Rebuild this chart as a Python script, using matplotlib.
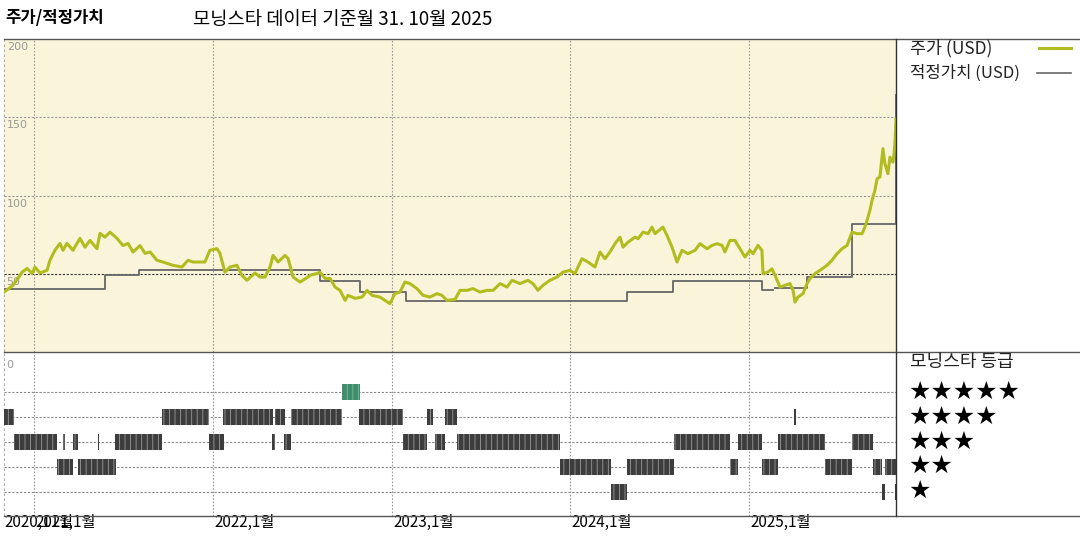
import matplotlib
matplotlib.use("Agg")
import matplotlib.pyplot as plt
from matplotlib.lines import Line2D
from matplotlib.transforms import blended_transform_factory

plt.rcParams['font.family'] = ['Noto Sans CJK KR', 'DejaVu Sans']
plt.rcParams['hatch.linewidth'] = 0.6

# 주가 (USD), 날짜는 소수 연도
price_dates = [
    2020.832, 2020.882, 2020.910, 2020.933, 2020.961, 2020.989, 2021.005, 2021.033, 2021.073, 2021.089,
    2021.117, 2021.145, 2021.162, 2021.184, 2021.218, 2021.257, 2021.285, 2021.313, 2021.352, 2021.369,
    2021.397, 2021.425, 2021.464, 2021.498, 2021.526, 2021.554, 2021.593, 2021.621, 2021.649, 2021.688,
    2021.721, 2021.777, 2021.828, 2021.861, 2021.889, 2021.928, 2021.956, 2021.984, 2022.024, 2022.040,
    2022.068, 2022.096, 2022.135, 2022.163, 2022.191, 2022.236, 2022.264, 2022.292, 2022.320, 2022.337,
    2022.365, 2022.404, 2022.421, 2022.449, 2022.488, 2022.533, 2022.544, 2022.583, 2022.600, 2022.628,
    2022.656, 2022.684, 2022.712, 2022.740, 2022.756, 2022.796, 2022.835, 2022.863, 2022.891, 2022.935,
    2022.963, 2022.991, 2023.019, 2023.047, 2023.075, 2023.103, 2023.142, 2023.176, 2023.215, 2023.254,
    2023.282, 2023.310, 2023.355, 2023.383, 2023.422, 2023.456, 2023.495, 2023.534, 2023.568, 2023.607,
    2023.646, 2023.674, 2023.719, 2023.763, 2023.791, 2023.819, 2023.847, 2023.886, 2023.926, 2023.959,
    2023.998, 2024.026, 2024.065, 2024.099, 2024.138, 2024.166, 2024.194, 2024.222, 2024.250, 2024.278,
    2024.295, 2024.323, 2024.362, 2024.379, 2024.407, 2024.435, 2024.457, 2024.474, 2024.518, 2024.541,
    2024.569, 2024.597, 2024.625, 2024.658, 2024.698, 2024.725, 2024.765, 2024.793, 2024.821, 2024.849,
    2024.865, 2024.893, 2024.921, 2024.949, 2024.977, 2025.005, 2025.022, 2025.050, 2025.072, 2025.078,
    2025.106, 2025.128, 2025.145, 2025.173, 2025.201, 2025.229, 2025.246, 2025.257, 2025.274, 2025.302,
    2025.324, 2025.341, 2025.369, 2025.397, 2025.436, 2025.464, 2025.492, 2025.520, 2025.548, 2025.576,
    2025.604, 2025.632, 2025.648, 2025.660, 2025.676, 2025.688, 2025.704, 2025.716, 2025.732, 2025.749,
    2025.760, 2025.777, 2025.788, 2025.805, 2025.811, 2025.816, 2025.822,
]
price_usd = [
    38.3, 42.6, 47.0, 51.0, 53.4, 50.2, 54.3, 50.5, 52.2, 58.6,
    65.0, 69.4, 65.0, 69.4, 65.0, 72.6, 67.0, 71.3, 66.0, 75.8,
    73.4, 76.6, 72.6, 68.0, 69.4, 63.9, 68.0, 63.0, 63.9, 58.6,
    57.5, 55.4, 54.3, 58.6, 57.5, 57.5, 57.5, 65.0, 66.0, 63.0,
    51.0, 54.3, 55.4, 49.0, 45.8, 50.5, 47.9, 47.9, 54.3, 61.7,
    57.5, 61.7, 59.8, 47.9, 44.7, 47.9, 49.0, 50.2, 51.0, 47.0,
    47.0, 41.5, 39.4, 33.0, 36.2, 34.3, 35.1, 39.4, 36.2, 35.1,
    33.0, 30.9, 37.3, 38.3, 44.7, 43.7, 40.5, 36.2, 35.1, 37.3,
    36.2, 33.0, 33.5, 39.4, 39.4, 40.5, 38.3, 39.4, 39.4, 43.7,
    41.5, 45.8, 43.7, 45.8, 43.7, 39.4, 42.6, 45.8, 47.9, 51.0,
    52.2, 50.1, 59.6, 57.5, 54.3, 63.9, 59.6, 63.9, 69.2, 73.4,
    67.0, 70.2, 73.4, 72.4, 76.6, 75.6, 79.8, 75.6, 79.8, 74.5,
    67.0, 57.5, 65.0, 62.8, 65.0, 69.2, 66.0, 68.1, 69.2, 68.1,
    63.9, 71.3, 71.3, 66.0, 60.7, 65.0, 62.8, 68.1, 65.0, 50.1,
    51.1, 53.2, 49.0, 41.5, 42.6, 43.7, 39.4, 31.9, 35.1, 37.3,
    43.7, 46.9, 50.1, 52.2, 55.4, 58.6, 62.8, 66.0, 68.1, 76.6,
    75.6, 75.6, 79.8, 84.1, 90.5, 96.9, 103.3, 110.7, 111.8, 129.9,
    120.3, 113.9, 124.5, 121.3, 126.7, 133.1, 149.0,
]

# 적정가치 (USD) 계단, nan = 끊김
fair_dates = [2020.832, 2021.397, 2021.587, 2022.600, 2022.823, 2023.081, 2024.317,
              2024.574, 2025.072, 2025.134, 2025.145, 2025.324, 2025.576, 2025.822]
fair_usd = [40.5, 49.0, 52.5, 45.1, 38.3, 32.3, 38.3,
            45.3, 39.4, float('nan'), 41.1, 47.9, 82.0, 164.0]

# 모닝스타 등급 구간 (시작, 끝)
rating_5 = [(2022.723, 2022.823)]
rating_4 = [(2020.826, 2020.888), (2021.716, 2021.979), (2022.057, 2022.337), (2022.348, 2022.404),
            (2022.437, 2022.723), (2022.818, 2023.064), (2023.198, 2023.232), (2023.299, 2023.366),
            (2025.251, 2025.262)]
rating_3 = [(2020.888, 2021.128), (2021.162, 2021.173), (2021.218, 2021.246), (2021.358, 2021.363),
            (2021.453, 2021.716), (2021.979, 2022.063), (2022.331, 2022.348), (2022.398, 2022.437),
            (2023.064, 2023.198), (2023.243, 2023.299), (2023.366, 2023.942), (2024.580, 2024.893),
            (2024.938, 2025.072), (2025.162, 2025.425), (2025.576, 2025.693)]
rating_2 = [(2021.128, 2021.218), (2021.246, 2021.459), (2023.942, 2024.228), (2024.317, 2024.580),
            (2024.893, 2024.938), (2025.072, 2025.162), (2025.425, 2025.576), (2025.693, 2025.744),
            (2025.760, 2025.827)]
rating_1 = [(2024.228, 2024.317), (2025.744, 2025.760), (2025.816, 2025.827)]

year_ticks = [2021, 2022, 2023, 2024, 2025]
tick_labels = ['2021,1월', '2022,1월', '2023,1월', '2024,1월', '2025,1월']
start_label = '2020,11월'
price_ticks = [0, 50, 100, 150, 200]

x_min, x_max = 2020.832, 2025.822
bg = '#FAF5DA'
olive = '#B3BC1F'

W, H = 1080, 540
fig = plt.figure(figsize=(10.8, 5.4), dpi=100)
ax = fig.add_axes([4 / W, 1 - 352 / H, 892 / W, 313 / H])
axr = fig.add_axes([4 / W, 1 - 516 / H, 892 / W, 164 / H])

# ---- 주가 패널
ax.set_facecolor(bg)
ax.set_xlim(x_min, x_max)
ax.set_ylim(0, 200)
ax.set_xticks([])
ax.set_yticks([])
for s in ax.spines.values():
    s.set_visible(False)
for yv in price_ticks[1:4]:
    ax.axhline(yv, color='#333333' if yv == 50 else '#999999', lw=0.8, ls=(0, (2, 1.5)), zorder=1)
for xv in year_ticks:
    ax.axvline(xv, color='#999999', lw=0.8, ls=(0, (1.5, 1.5)), zorder=1)
ax.axvline(x_min, color='#999999', lw=1.2, ls=(0, (1.5, 1.5)), zorder=1)

ax.plot(fair_dates, fair_usd, drawstyle='steps-post', color='#666666', lw=1.3, zorder=3)
ax.plot(price_dates, price_usd, color=olive, lw=2.2, zorder=4)

tr = blended_transform_factory(ax.transAxes, ax.transData)
for yv in price_ticks[1:]:
    ax.text(0.003, yv - 2, str(yv), transform=tr, ha='left', va='top',
            fontsize=8, color='#999999', family=['DejaVu Sans'], zorder=2)

# ---- 등급 패널
axr.set_facecolor('white')
axr.set_xlim(x_min, x_max)
axr.set_ylim(0.03, 6.6)
axr.set_xticks([])
axr.set_yticks([])
for s in axr.spines.values():
    s.set_visible(False)
for k in range(1, 6):
    axr.axhline(k, color='#888888', lw=0.8, ls=(0, (2, 1.5)), zorder=1)
for xv in year_ticks:
    axr.axvline(xv, color='#999999', lw=0.8, ls=(0, (1.5, 1.5)), zorder=1)
axr.axvline(x_min, color='#999999', lw=1.2, ls=(0, (1.5, 1.5)), zorder=1)

bar_h = 0.62
for k, segs in zip([1, 2, 3, 4], [rating_1, rating_2, rating_3, rating_4]):
    axr.broken_barh([(a, b - a) for a, b in segs], (k - bar_h / 2, bar_h),
                    facecolor='#3d3d3d', edgecolor='#9a9a9a', hatch='|||', lw=0, zorder=3)
axr.broken_barh([(a, b - a) for a, b in rating_5], (5 - bar_h / 2, bar_h),
                facecolor='#3f8d6c', edgecolor='#7fb79d', hatch='|||', lw=0, zorder=3)
axr.text(0.003, 0.95, '0', transform=axr.transAxes, ha='left', va='top',
         fontsize=8, color='#999999', family=['DejaVu Sans'])

# x 축 라벨 (원본처럼 첫 두 라벨이 겹침)
trx = blended_transform_factory(axr.transData, fig.transFigure)
axr.text(x_min, 1 - 522 / H, start_label, transform=trx, ha='left', va='center', fontsize=11)
for xv, lab in zip(year_ticks, tick_labels):
    axr.text(xv + 0.008, 1 - 522 / H, lab, transform=trx, ha='left', va='center', fontsize=11)

# ---- 테두리
for yy in [39, 352, 516]:
    fig.add_artist(Line2D([4 / W, 1], [1 - yy / H] * 2, color='#555555', lw=1.0))
fig.add_artist(Line2D([896 / W] * 2, [1 - 39 / H, 1 - 516 / H], color='#333333', lw=1.0))

# ---- 제목
fig.text(5 / W, 1 - 18 / H, '주가/적정가치', fontsize=12, fontweight='bold', va='center')
fig.text(193 / W, 1 - 20 / H, '모닝스타 데이터 기준월 31. 10월 2025', fontsize=13.5, va='center')

# ---- 범례
fig.text(910 / W, 1 - 48 / H, '주가 (USD)', fontsize=12.5, va='center', color='#222222')
fig.add_artist(Line2D([1039 / W, 1071 / W], [1 - 48 / H] * 2, color=olive, lw=2.2))
fig.text(910 / W, 1 - 73 / H, '적정가치 (USD)', fontsize=12, va='center', color='#222222')
fig.add_artist(Line2D([1037 / W, 1071 / W], [1 - 73 / H] * 2, color='#666666', lw=1.2))

fig.text(910 / W, 1 - 362 / H, '모닝스타 등급', fontsize=13, va='center', color='#222222')
for k in range(5, 0, -1):
    yrow = 1 - (392 + (5 - k) * 24.75) / H
    fig.text(908 / W, yrow, '★' * k, fontsize=18, va='center', family=['DejaVu Sans'])

fig.savefig('out.png', dpi=100)
